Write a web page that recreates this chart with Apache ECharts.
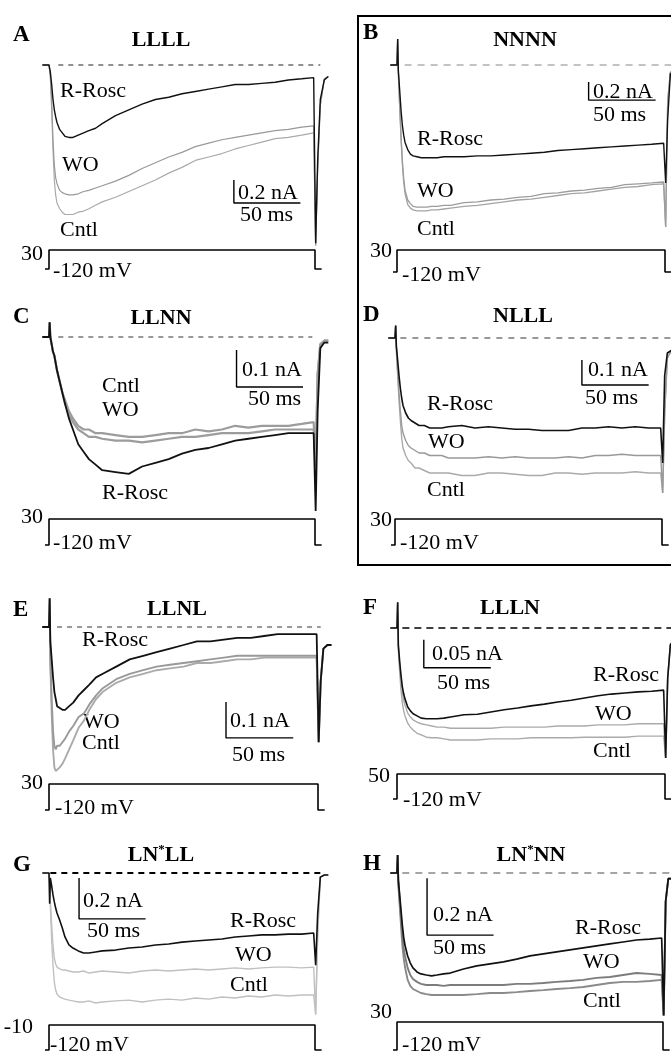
<!DOCTYPE html>
<html>
<head>
<meta charset="utf-8">
<script src="https://cdn.jsdelivr.net/npm/echarts@6/dist/echarts.min.js"></script>
<style>
	html, body { margin: 0; padding: 0; background: #fff; }
	#chart { width: 671px; height: 1056px; }
</style>
</head>
<body>
<div id="chart"></div>
<script>
// sample times (ms) shared by every trace, step starts at 0 and ends at 200
const timeMs = [-5, 0, 0.5, 1, 2, 3, 4, 5, 6, 8,
	10, 12, 15, 18, 22, 26, 30, 35, 40, 50,
	60, 70, 80, 90, 100, 110, 120, 130, 140, 150,
	160, 170, 180, 190, 199, 200.5, 202, 204, 207, 210];

const panelLetters = ['A', 'B', 'C', 'D', 'E', 'F', 'G', 'H'];
const panelTitles = ['LLLL', 'NNNN', 'LLNN', 'NLLL', 'LLNL', 'LLLN', 'LN*LL', 'LN*NN'];
const holdMv = -120;
const stepMv = [30, 30, 30, 30, 30, 50, -10, 30];
const scaleNa = [0.2, 0.2, 0.1, 0.1, 0.1, 0.05, 0.2, 0.2];
const scaleMs = 50;

// currents in nA (inward = negative)
const aRosc = [0, 0, -0.01, -0.06, -0.17, -0.30, -0.39, -0.45, -0.50, -0.56,
	-0.59, -0.62, -0.63, -0.63, -0.61, -0.59, -0.57, -0.55, -0.51, -0.44,
	-0.39, -0.34, -0.30, -0.28, -0.25, -0.23, -0.21, -0.19, -0.17, -0.17,
	-0.16, -0.15, -0.13, -0.12, -0.11, -1.55, -0.83, -0.30, -0.13, -0.10];
const aWO = [0, 0, -0.01, -0.09, -0.30, -0.65, -0.87, -0.98, -1.03, -1.09,
	-1.11, -1.12, -1.13, -1.13, -1.12, -1.10, -1.09, -1.07, -1.05, -1.01,
	-0.96, -0.90, -0.85, -0.80, -0.76, -0.71, -0.68, -0.65, -0.63, -0.61,
	-0.59, -0.57, -0.56, -0.54, -0.53, -1.57, -0.90, -0.35, -0.12, -0.10];
const aCntl = [0, 0, -0.01, -0.11, -0.39, -0.74, -1.00, -1.13, -1.20, -1.25,
	-1.28, -1.30, -1.30, -1.30, -1.28, -1.27, -1.25, -1.22, -1.19, -1.15,
	-1.10, -1.05, -1.00, -0.94, -0.89, -0.83, -0.80, -0.77, -0.73, -0.70,
	-0.67, -0.64, -0.63, -0.61, -0.59, -1.57, -0.90, -0.35, -0.12, -0.10];

const bRosc = [0, 0, 0.29, -0.06, -0.28, -0.50, -0.67, -0.78, -0.86, -0.94,
	-0.99, -1.01, -1.02, -1.03, -1.03, -1.03, -1.03, -1.02, -1.02, -1.02,
	-1.01, -1.01, -1.00, -0.99, -0.98, -0.97, -0.95, -0.94, -0.93, -0.92,
	-0.91, -0.90, -0.89, -0.88, -0.87, -1.31, -0.60, -0.10, -0.06, -0.06];
const bWO = [0, 0, 0.29, -0.08, -0.44, -0.78, -1.06, -1.26, -1.39, -1.50,
	-1.54, -1.57, -1.58, -1.58, -1.58, -1.57, -1.57, -1.56, -1.56, -1.53,
	-1.52, -1.50, -1.49, -1.47, -1.46, -1.43, -1.42, -1.40, -1.39, -1.37,
	-1.36, -1.33, -1.32, -1.31, -1.30, -1.80, -0.40, -0.08, -0.05, -0.05];
const bCntl = [0, 0, 0.29, -0.09, -0.47, -0.82, -1.10, -1.30, -1.43, -1.55,
	-1.59, -1.61, -1.62, -1.62, -1.62, -1.61, -1.61, -1.60, -1.59, -1.57,
	-1.56, -1.54, -1.52, -1.50, -1.49, -1.47, -1.45, -1.43, -1.42, -1.40,
	-1.38, -1.36, -1.35, -1.33, -1.32, -1.80, -0.40, -0.08, -0.05, -0.05];

const cRosc = [0, 0, 0.04, 0, -0.02, -0.04, -0.05, -0.07, -0.09, -0.12,
	-0.15, -0.18, -0.22, -0.25, -0.29, -0.31, -0.33, -0.345, -0.36, -0.365,
	-0.37, -0.35, -0.34, -0.33, -0.315, -0.305, -0.30, -0.29, -0.28, -0.275,
	-0.27, -0.265, -0.26, -0.26, -0.26, -0.47, -0.20, -0.03, -0.015, -0.015];
const cWO = [0, 0, 0.04, 0, -0.02, -0.04, -0.05, -0.07, -0.09, -0.12,
	-0.15, -0.18, -0.21, -0.23, -0.25, -0.26, -0.27, -0.27, -0.275, -0.28,
	-0.28, -0.285, -0.28, -0.275, -0.27, -0.27, -0.265, -0.26, -0.26, -0.26,
	-0.255, -0.25, -0.25, -0.25, -0.25, -0.35, -0.10, -0.02, -0.01, -0.01];
const cCntl = [0, 0, 0.04, 0, -0.02, -0.04, -0.05, -0.07, -0.09, -0.12,
	-0.15, -0.17, -0.20, -0.22, -0.24, -0.25, -0.25, -0.26, -0.26, -0.265,
	-0.27, -0.27, -0.265, -0.26, -0.26, -0.25, -0.255, -0.25, -0.24, -0.245,
	-0.24, -0.24, -0.24, -0.235, -0.23, -0.35, -0.10, -0.02, -0.01, -0.01];

const dRosc = [0, 0, 0.05, -0.03, -0.09, -0.15, -0.20, -0.24, -0.27, -0.30,
	-0.32, -0.33, -0.34, -0.35, -0.35, -0.36, -0.36, -0.36, -0.355, -0.35,
	-0.36, -0.355, -0.36, -0.365, -0.365, -0.37, -0.37, -0.37, -0.36, -0.36,
	-0.355, -0.36, -0.355, -0.36, -0.36, -0.50, -0.15, -0.06, -0.05, -0.05];
const dWO = [0, 0, 0.05, -0.04, -0.13, -0.22, -0.29, -0.35, -0.38, -0.41,
	-0.43, -0.44, -0.45, -0.46, -0.46, -0.47, -0.47, -0.47, -0.48, -0.48,
	-0.48, -0.475, -0.48, -0.475, -0.48, -0.48, -0.48, -0.475, -0.48, -0.47,
	-0.47, -0.465, -0.47, -0.47, -0.47, -0.62, -0.30, -0.08, -0.05, -0.05];
const dCntl = [0, 0, 0.05, -0.05, -0.15, -0.25, -0.33, -0.40, -0.44, -0.47,
	-0.49, -0.50, -0.52, -0.52, -0.53, -0.54, -0.54, -0.54, -0.54, -0.55,
	-0.55, -0.54, -0.54, -0.545, -0.55, -0.55, -0.54, -0.54, -0.545, -0.54,
	-0.54, -0.54, -0.535, -0.54, -0.54, -0.62, -0.30, -0.08, -0.05, -0.05];

const eRosc = [0, 0, 0.08, -0.04, -0.09, -0.14, -0.18, -0.20, -0.22, -0.225,
	-0.23, -0.23, -0.22, -0.21, -0.19, -0.175, -0.16, -0.14, -0.13, -0.11,
	-0.09, -0.08, -0.07, -0.06, -0.05, -0.04, -0.04, -0.035, -0.03, -0.03,
	-0.025, -0.02, -0.02, -0.02, -0.02, -0.32, -0.15, -0.06, -0.05, -0.05];
const eWO = [0, 0, 0.08, -0.09, -0.20, -0.29, -0.33, -0.34, -0.33, -0.33,
	-0.32, -0.31, -0.29, -0.275, -0.25, -0.24, -0.215, -0.19, -0.17, -0.145,
	-0.13, -0.12, -0.11, -0.105, -0.10, -0.095, -0.09, -0.085, -0.08, -0.08,
	-0.08, -0.08, -0.08, -0.08, -0.08, -0.32, -0.15, -0.06, -0.05, -0.05];
const eCntl = [0, 0, 0.08, -0.105, -0.24, -0.34, -0.39, -0.40, -0.40, -0.39,
	-0.38, -0.365, -0.34, -0.315, -0.28, -0.26, -0.23, -0.20, -0.18, -0.155,
	-0.14, -0.13, -0.12, -0.115, -0.11, -0.10, -0.10, -0.095, -0.09, -0.09,
	-0.085, -0.085, -0.085, -0.085, -0.085, -0.32, -0.15, -0.06, -0.05, -0.05];

const fRosc = [0, 0, 0.046, -0.03, -0.06, -0.085, -0.105, -0.118, -0.127, -0.141,
	-0.148, -0.153, -0.157, -0.161, -0.162, -0.162, -0.162, -0.161, -0.159, -0.155,
	-0.154, -0.150, -0.146, -0.143, -0.139, -0.136, -0.132, -0.129, -0.125, -0.121,
	-0.118, -0.116, -0.114, -0.113, -0.111, -0.232, -0.09, -0.03, -0.02, -0.02];
const fWO = [0, 0, 0.046, -0.034, -0.066, -0.093, -0.114, -0.129, -0.138, -0.152,
	-0.159, -0.164, -0.168, -0.171, -0.173, -0.175, -0.177, -0.177, -0.179, -0.179,
	-0.179, -0.179, -0.177, -0.177, -0.177, -0.177, -0.175, -0.175, -0.175, -0.173,
	-0.173, -0.173, -0.171, -0.171, -0.171, -0.232, -0.09, -0.03, -0.02, -0.02];
const fCntl = [0, 0, 0.046, -0.039, -0.079, -0.111, -0.134, -0.148, -0.157, -0.170,
	-0.177, -0.182, -0.188, -0.191, -0.195, -0.196, -0.196, -0.198, -0.200, -0.200,
	-0.200, -0.198, -0.198, -0.198, -0.196, -0.196, -0.196, -0.196, -0.195, -0.195,
	-0.195, -0.195, -0.193, -0.193, -0.193, -0.232, -0.09, -0.03, -0.02, -0.02];

const gRosc = [0, 0, -0.15, -0.024, -0.063, -0.107, -0.141, -0.171, -0.195, -0.229,
	-0.268, -0.312, -0.351, -0.366, -0.380, -0.390, -0.390, -0.385, -0.380, -0.376,
	-0.366, -0.361, -0.351, -0.346, -0.337, -0.332, -0.327, -0.322, -0.312, -0.307,
	-0.302, -0.302, -0.298, -0.298, -0.293, -0.45, -0.20, -0.02, -0.01, -0.01];
const gWO = [0, 0, -0.034, -0.132, -0.254, -0.351, -0.415, -0.444, -0.459, -0.468,
	-0.473, -0.473, -0.478, -0.483, -0.483, -0.478, -0.488, -0.483, -0.478, -0.483,
	-0.488, -0.478, -0.473, -0.478, -0.473, -0.468, -0.473, -0.468, -0.463, -0.468,
	-0.463, -0.459, -0.459, -0.463, -0.459, -0.69, -0.30, -0.02, -0.01, -0.01];
const gCntl = [0, 0, -0.044, -0.156, -0.327, -0.449, -0.532, -0.571, -0.590, -0.605,
	-0.610, -0.615, -0.620, -0.624, -0.629, -0.629, -0.624, -0.634, -0.629, -0.624,
	-0.620, -0.629, -0.620, -0.615, -0.620, -0.610, -0.615, -0.605, -0.610, -0.600,
	-0.605, -0.595, -0.600, -0.595, -0.595, -0.69, -0.30, -0.02, -0.01, -0.01];

const hRosc = [0, 0, 0.063, -0.025, -0.077, -0.130, -0.183, -0.225, -0.253, -0.291,
	-0.316, -0.333, -0.347, -0.354, -0.358, -0.361, -0.358, -0.354, -0.351, -0.337,
	-0.326, -0.319, -0.312, -0.302, -0.291, -0.284, -0.277, -0.270, -0.263, -0.256,
	-0.249, -0.242, -0.235, -0.232, -0.228, -0.50, -0.10, -0.02, -0.02, -0.02];
const hWO = [0, 0, 0.063, -0.032, -0.095, -0.158, -0.218, -0.263, -0.291, -0.333,
	-0.358, -0.372, -0.382, -0.389, -0.393, -0.393, -0.393, -0.396, -0.393, -0.393,
	-0.393, -0.393, -0.393, -0.389, -0.389, -0.386, -0.382, -0.379, -0.375, -0.368,
	-0.365, -0.358, -0.351, -0.354, -0.358, -0.50, -0.10, -0.02, -0.02, -0.02];
const hCntl = [0, 0, 0.063, -0.039, -0.112, -0.183, -0.253, -0.298, -0.330, -0.375,
	-0.396, -0.407, -0.414, -0.421, -0.425, -0.428, -0.428, -0.428, -0.428, -0.428,
	-0.425, -0.421, -0.421, -0.418, -0.414, -0.411, -0.407, -0.404, -0.400, -0.393,
	-0.386, -0.382, -0.382, -0.379, -0.375, -0.50, -0.10, -0.02, -0.02, -0.02];

// drawn in this order: Cntl, WO, R-Rosc (black on top)
const traces = [
	[aCntl, aWO, aRosc], [bCntl, bWO, bRosc], [cCntl, cWO, cRosc], [dCntl, dWO, dRosc],
	[eCntl, eWO, eRosc], [fCntl, fWO, fRosc], [gCntl, gWO, gRosc], [hCntl, hWO, hRosc]
];

// page layout: step start/end px, zero line px, px per nA, protocol box px
const layout = [
	{ x0: 49, x1: 315, y0: 65, k: 115, pTop: 250, pBot: 269, dash: [7, 204, '#222', 1, [5, 5]], bar: [139, -1.20],
		colors: ['#aaa', '#999', '#111'], widths: [1.2, 1.2, 1.4],
		text: { letter: [13, 35], title: [161, 40], rosc: [60, 91], wo: [62, 165], cntl: [60, 230], na: [238, 193], ms: [240, 215], step: [43, 254], hold: [53, 271] } },
	{ x0: 397, x1: 665, y0: 65, k: 90, pTop: 250, pBot: 272, dash: [-4, 206, '#888', 1.2, [7, 6]], bar: [143, -0.39],
		colors: ['#a4a4a4', '#9c9c9c', '#111'], widths: [1.3, 1.3, 1.4],
		text: { letter: [363, 33], title: [525, 40], rosc: [417, 139], wo: [417, 191], cntl: [417, 229], na: [593, 92], ms: [593, 115], step: [392, 251], hold: [402, 275] } },
	{ x0: 49, x1: 315, y0: 337, k: 370, pTop: 519, pBot: 545, dash: [7, 198, '#333', 1, [5, 5]], bar: [141, -0.135],
		colors: ['#9c9c9c', '#9c9c9c', '#111'], widths: [2.2, 2.2, 1.8],
		text: { letter: [13, 317], title: [161, 318], rosc: [102, 493], wo: [102, 410], cntl: [102, 386], na: [242, 370], ms: [248, 399], step: [43, 517], hold: [53, 543] } },
	{ x0: 395, x1: 662, y0: 338, k: 250, pTop: 519, pBot: 545, dash: [4, 207, '#333', 1, [6, 6]], bar: [140, -0.188],
		colors: ['#aaa', '#999', '#111'], widths: [1.4, 1.4, 1.6],
		text: { letter: [363, 315], title: [523, 316], rosc: [427, 404], wo: [428, 442], cntl: [427, 490], na: [588, 370], ms: [585, 398], step: [392, 520], hold: [400, 543] } },
	{ x0: 49, x1: 318, y0: 627, k: 360, pTop: 784, pBot: 810, dash: [6, 202, '#333', 1, [5, 5]], bar: [131.6, -0.308],
		colors: ['#aaa', '#999', '#111'], widths: [1.9, 1.9, 1.8],
		text: { letter: [13, 610], title: [177, 609], rosc: [82, 640], wo: [83, 722], cntl: [82, 743], na: [230, 721], ms: [232, 755], step: [43, 783], hold: [55, 808] } },
	{ x0: 397, x1: 665, y0: 628, k: 560, pTop: 774, pBot: 799, dash: [4, 206, '#000', 1.6, [7, 5]], bar: [20, -0.071],
		colors: ['#aaa', '#aaa', '#111'], widths: [1.4, 1.4, 1.6],
		text: { letter: [363, 608], title: [510, 608], rosc: [593, 675], wo: [595, 714], cntl: [593, 751], na: [432, 654], ms: [437, 683], step: [390, 776], hold: [403, 800] } },
	{ x0: 49, x1: 315, y0: 873, k: 205, pTop: 1025, pBot: 1050, dash: [1, 204, '#000', 1.8, [6, 5]], bar: [22.6, -0.224],
		colors: ['#c0c0c0', '#c0c0c0', '#111'], widths: [1.4, 1.4, 1.6],
		text: { letter: [13, 865], title: [161, 855], rosc: [230, 921], wo: [235, 955], cntl: [230, 985], na: [83, 901], ms: [87, 931], step: [33, 1027], hold: [50, 1045] } },
	{ x0: 397, x1: 663, y0: 873, k: 285, pTop: 1022, pBot: 1050, dash: [4, 206, '#888', 1.4, [7, 6]], bar: [22.6, -0.218],
		colors: ['#8a8a8a', '#7c7c7c', '#111'], widths: [1.9, 1.9, 1.7],
		text: { letter: [363, 864], title: [531, 855], rosc: [575, 928], wo: [583, 962], cntl: [583, 1001], na: [433, 915], ms: [433, 948], step: [392, 1012], hold: [402, 1045] } }
];

const T_MIN = -8;
const T_MAX = 212;
const FONT = '"Liberation Serif", "Times New Roman", serif';

const grids = [];
const xAxes = [];
const yAxes = [];
const series = [];
const graphics = [];

function textEl(x, y, text, opts) {
	opts = opts || {};
	return {
		type: 'text', x: x, y: y, silent: true,
		style: {
			text: text,
			font: (opts.bold ? 'bold ' : '') + (opts.size || 22) + 'px ' + FONT,
			fill: '#000',
			textAlign: opts.align || 'left',
			textVerticalAlign: 'middle',
			rich: opts.rich
		}
	};
}

layout.forEach((p, i) => {
	const s = (p.x1 - p.x0) / 200;
	const left = p.x0 + T_MIN * s;
	const width = (T_MAX - T_MIN) * s;

	// trace grid
	const gi = grids.length;
	grids.push({ left: left, top: p.y0 - 40, width: width, height: 260, containLabel: false, outerBoundsMode: 'none' });
	xAxes.push({ type: 'value', gridIndex: gi, min: T_MIN, max: T_MAX, show: false });
	yAxes.push({ type: 'value', gridIndex: gi, min: -220 / p.k, max: 40 / p.k, show: false });

	// protocol grid
	const pi = grids.length;
	grids.push({ left: left, top: p.pTop, width: width, height: p.pBot - p.pTop, containLabel: false, outerBoundsMode: 'none' });
	xAxes.push({ type: 'value', gridIndex: pi, min: T_MIN, max: T_MAX, show: false });
	yAxes.push({ type: 'value', gridIndex: pi, min: holdMv, max: stepMv[i], show: false });

	const base = { type: 'line', xAxisIndex: gi, yAxisIndex: gi, showSymbol: false, symbol: 'none', clip: false, silent: true, z: 2 };

	// zero-current dashed line
	series.push(Object.assign({}, base, {
		data: [[p.dash[0], 0], [p.dash[1], 0]],
		lineStyle: { color: p.dash[2], width: p.dash[3], type: p.dash[4] }
	}));

	// current traces
	traces[i].forEach((vals, j) => {
		series.push(Object.assign({}, base, {
			name: ['Cntl', 'WO', 'R-Rosc'][j],
			data: timeMs.map((t, n) => [t, vals[n]]),
			lineStyle: { color: p.colors[j], width: p.widths[j] },
			z: 3 + j
		}));
	});

	// scale bar
	const bt = p.bar[0], bi = p.bar[1];
	series.push(Object.assign({}, base, {
		data: [[bt, bi + scaleNa[i]], [bt, bi], [bt + scaleMs, bi]],
		lineStyle: { color: '#000', width: 1.4 }
	}));

	// voltage protocol
	series.push({
		type: 'line', xAxisIndex: pi, yAxisIndex: pi, showSymbol: false, symbol: 'none', clip: false, silent: true,
		data: [[-3, holdMv], [0, holdMv], [0, stepMv[i]], [200, stepMv[i]], [200, holdMv], [205, holdMv]],
		lineStyle: { color: '#000', width: 1.6 }
	});

	// texts
	const tx = p.text;
	graphics.push(textEl(tx.letter[0], tx.letter[1], panelLetters[i], { bold: true, size: 23 }));
	const title = panelTitles[i];
	if (title.indexOf('*') >= 0) {
		const parts = title.split('*');
		graphics.push(textEl(tx.title[0], tx.title[1], '{t|' + parts[0] + '}{s|*}{t|' + parts[1] + '}', {
			align: 'center',
			bold: true,
			rich: {
				t: { font: 'bold 22px ' + FONT, fill: '#000' },
				s: { font: 'bold 13px ' + FONT, fill: '#000', padding: [0, 0, 10, 0] }
			}
		}));
	} else {
		graphics.push(textEl(tx.title[0], tx.title[1], title, { bold: true, align: 'center' }));
	}
	graphics.push(textEl(tx.rosc[0], tx.rosc[1], 'R-Rosc'));
	graphics.push(textEl(tx.wo[0], tx.wo[1], 'WO'));
	graphics.push(textEl(tx.cntl[0], tx.cntl[1], 'Cntl'));
	graphics.push(textEl(tx.na[0], tx.na[1], scaleNa[i] + ' nA'));
	graphics.push(textEl(tx.ms[0], tx.ms[1], scaleMs + ' ms'));
	graphics.push(textEl(tx.step[0], tx.step[1], String(stepMv[i]), { align: 'right' }));
	graphics.push(textEl(tx.hold[0], tx.hold[1], holdMv + ' mV'));
});

// frame around panels B and D
graphics.push({
	type: 'rect', silent: true,
	shape: { x: 358, y: 16, width: 330, height: 549 },
	style: { fill: null, stroke: '#000', lineWidth: 2 }
});

const chart = echarts.init(document.getElementById('chart'), null, { renderer: 'canvas' });
chart.setOption({
	backgroundColor: '#fff',
	animation: false,
	grid: grids,
	xAxis: xAxes,
	yAxis: yAxes,
	series: series,
	graphic: graphics
});
</script>
</body>
</html>
